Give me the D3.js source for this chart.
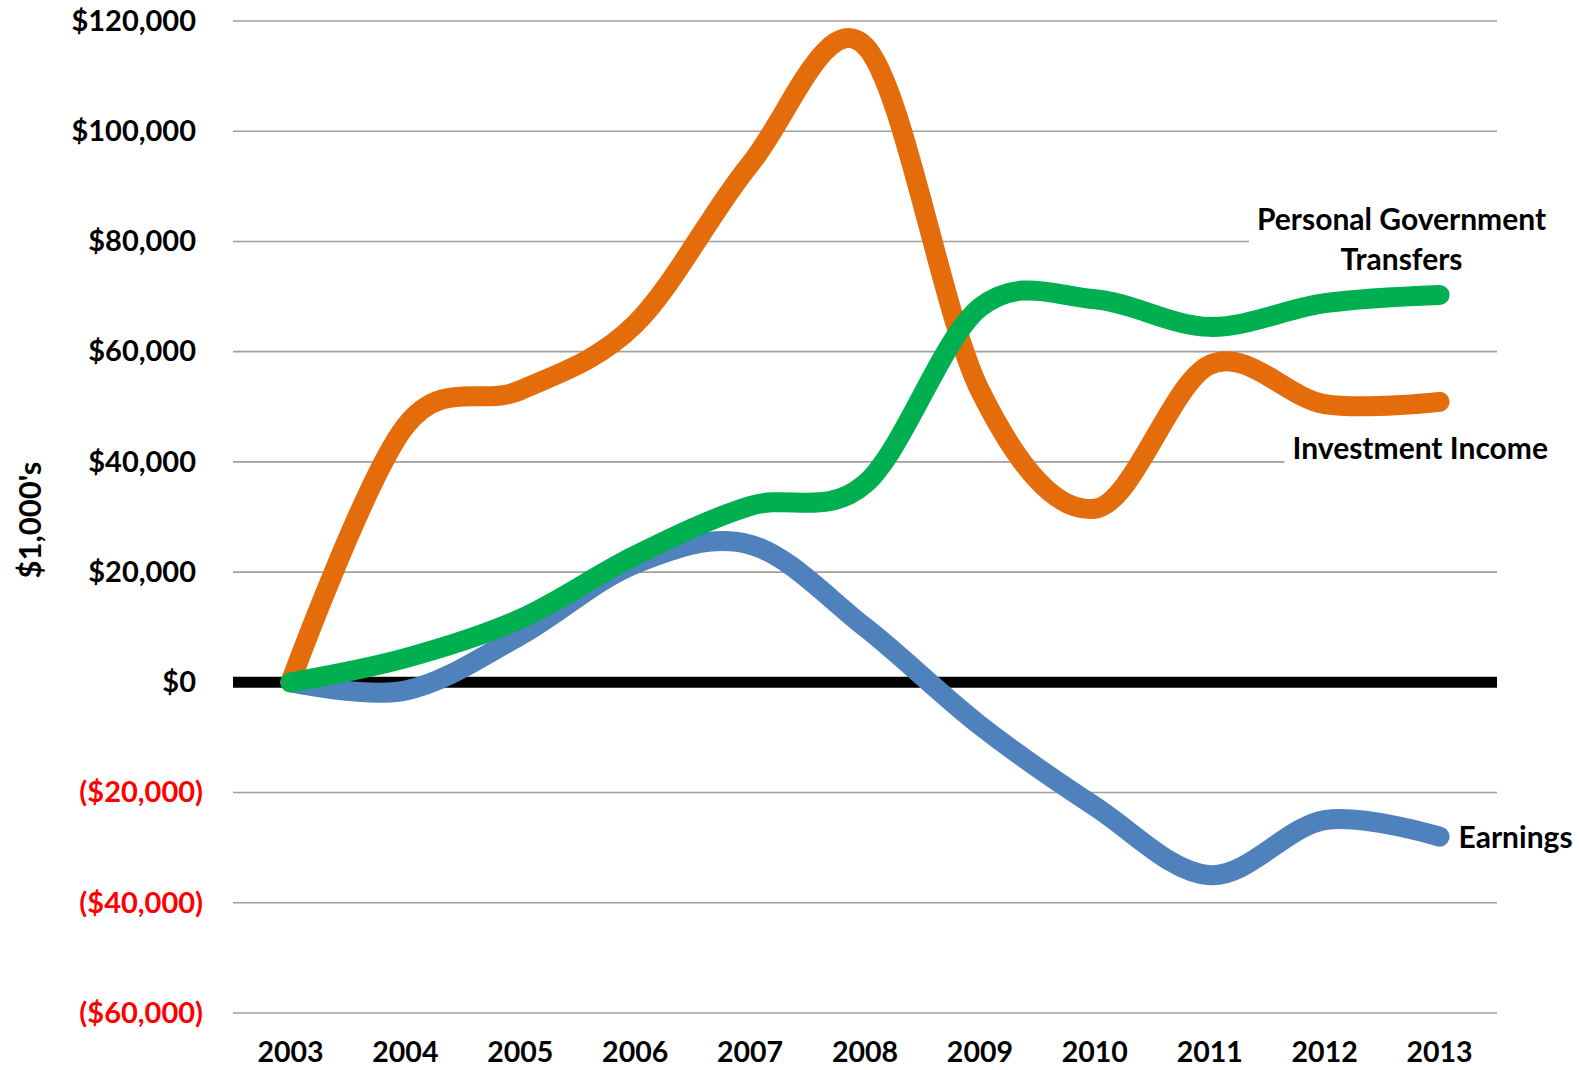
<!DOCTYPE html>
<html>
<head>
<meta charset="utf-8">
<script src="https://cdn.jsdelivr.net/npm/d3@7"></script>
<style>
    body { margin: 0; background: #fff; }
    svg text { font-family: Lato, "Open Sans", sans-serif; font-weight: bold; }
</style>
</head>
<body>
<svg id="chart" width="1579" height="1070"></svg>
<script>
// values in $1,000's
const years = [2003, 2004, 2005, 2006, 2007, 2008, 2009, 2010, 2011, 2012, 2013];
const earnings = [0, -1500, 8500, 21500, 25000, 10000, -7800, -22500, -35000, -25000, -28000];
const transfers = [0, 4400, 11500, 23000, 32000, 36000, 68000, 69500, 64500, 68800, 70300];
const investment = [0, 46500, 53000, 65000, 94000, 115500, 53000, 31500, 57600, 50500, 50900];
const yTicks = [-60000, -40000, -20000, 0, 20000, 40000, 60000, 80000, 100000, 120000];

const series = [
    {name: "Earnings", values: earnings, color: "#4f81bd"},
    {name: "Investment Income", values: investment, color: "#e46c0a"},
    {name: "Personal Government Transfers", values: transfers, color: "#00b050"}
];

const width = 1579, height = 1070;
const margin = {top: 21, right: 82, bottom: 57, left: 233};

const svg = d3.select("#chart");

let xScale = d3.scaleBand()
    .domain(years)
    .range([margin.left, width - margin.right]);

let yScale = d3.scaleLinear()
    .domain([-60000, 120000])
    .range([height - margin.bottom, margin.top]);

const xc = d => xScale(d) + xScale.bandwidth() / 2;

// gridlines
svg.append("g")
    .attr("class", "grid")
    .selectAll("line")
    .data(yTicks.filter(d => d !== 0))
    .enter()
    .append("line")
    .attr("x1", margin.left)
    .attr("x2", width - margin.right)
    .attr("y1", d => yScale(d))
    .attr("y2", d => yScale(d))
    .attr("stroke", "#a0a0a0")
    .attr("stroke-width", 1.6);

// y axis labels
let fmt = d3.format("$,");
let yAxis = d3.axisLeft(yScale)
    .tickValues(yTicks)
    .tickSize(0)
    .tickPadding(0)
    .tickFormat(d => d < 0 ? `(${fmt(-d)})` : fmt(d));

let yAxisG = svg.append("g")
    .attr("transform", `translate(203, 0)`)
    .call(yAxis);
yAxisG.select(".domain").remove();
yAxisG.selectAll("text")
    .attr("font-size", 29)
    .attr("font-family", "Lato, sans-serif")
    .attr("dx", d => d < 0 ? 0 : -7)
    .attr("fill", d => d < 0 ? "#ff0000" : "#000");

// x axis labels
let xAxis = d3.axisBottom(xScale).tickSize(0).tickPadding(0);
let xAxisG = svg.append("g")
    .attr("transform", `translate(0, 1042)`)
    .call(xAxis);
xAxisG.select(".domain").remove();
xAxisG.selectAll("text")
    .attr("font-size", 28.5)
    .attr("font-family", "Lato, sans-serif")
    .attr("dy", "0.71em")
    .attr("fill", "#000");

// axis title
svg.append("text")
    .attr("transform", `translate(41, ${yScale(30000) + 3}) rotate(-90)`)
    .attr("text-anchor", "middle")
    .attr("font-size", 31)
    .text("$1,000's");

// zero line
svg.append("line")
    .attr("x1", margin.left)
    .attr("x2", width - margin.right)
    .attr("y1", yScale(0))
    .attr("y2", yScale(0))
    .attr("stroke", "#000")
    .attr("stroke-width", 11);

// lines
let line = d3.line()
    .x((d, i) => xc(years[i]))
    .y(d => yScale(d))
    .curve(d3.curveCatmullRom.alpha(0));

svg.append("g")
    .selectAll("path")
    .data(series)
    .enter()
    .append("path")
    .attr("d", d => line(d.values))
    .attr("fill", "none")
    .attr("stroke", d => d.color)
    .attr("stroke-width", 20)
    .attr("stroke-linecap", "round")
    .attr("stroke-linejoin", "round");

// series labels with white box behind, so the gridlines stop short
const lastX = xc(years[years.length - 1]);
const labels = [
    {lines: ["Personal Government", "Transfers"], x: lastX - 38, y: yScale(transfers[10]) - 65, anchor: "middle"},
    {lines: ["Investment Income"], x: lastX - 147, y: yScale(investment[10]) + 57, anchor: "start"},
    {lines: ["Earnings"], x: lastX + 19, y: yScale(earnings[10]) + 11, anchor: "start"}
];

let labelG = svg.append("g");
labels.forEach(l => {
    let g = labelG.append("g");
    let t = g.append("text")
        .attr("text-anchor", l.anchor)
        .attr("font-size", 30)
        .attr("fill", "#000");
    l.lines.forEach((s, i) => {
        t.append("tspan")
            .attr("x", l.x)
            .attr("y", l.y + i * 40)
            .text(s);
    });
    let bb = t.node().getBBox();
    g.insert("rect", "text")
        .attr("x", bb.x - 8)
        .attr("y", bb.y)
        .attr("width", bb.width + 16)
        .attr("height", bb.height)
        .attr("fill", "#fff");
});
</script>
</body>
</html>
